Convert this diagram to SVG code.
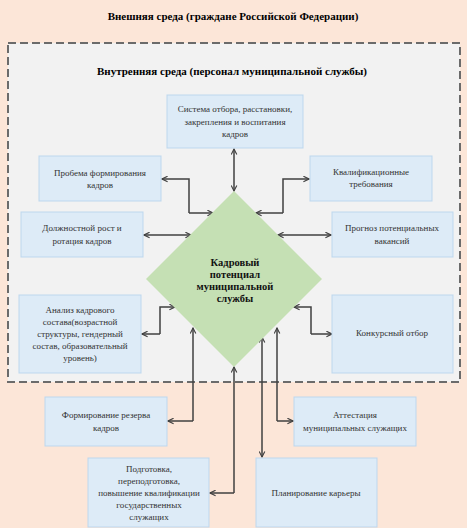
<svg xmlns="http://www.w3.org/2000/svg" width="467" height="528" viewBox="0 0 467 528">
<defs>
<style>
.t{font-family:"Liberation Serif","Times New Roman",serif;fill:#000;font-weight:bold;font-size:11px;text-anchor:middle;dominant-baseline:central}
.b{fill:#DDEBF7;stroke:#BDD7EE;stroke-width:1}
.bt{font-family:"Liberation Serif","Times New Roman",serif;fill:#333;font-size:9px;text-anchor:middle;dominant-baseline:central}
.dt{font-family:"Liberation Serif","Times New Roman",serif;fill:#111;font-size:10.5px;font-weight:bold;text-anchor:middle;dominant-baseline:central}
.c{fill:none;stroke:#404040;stroke-width:1.5;marker-end:url(#a)}
.d{marker-start:url(#s)}
</style>
<marker id="a" viewBox="0 0 10 10" refX="9" refY="5" markerWidth="7" markerHeight="7" markerUnits="userSpaceOnUse" orient="auto">
<path d="M1,1 L9,5 L1,9" fill="none" stroke="#404040" stroke-width="1.6"/>
</marker>
<marker id="s" viewBox="0 0 10 10" refX="1" refY="5" markerWidth="7" markerHeight="7" markerUnits="userSpaceOnUse" orient="auto">
<path d="M9,1 L1,5 L9,9" fill="none" stroke="#404040" stroke-width="1.6"/>
</marker>
</defs>
<rect x="0" y="0" width="467" height="528" fill="#FCE6D8"/>
<text class="t" x="233" y="16">Внешняя среда (граждане Российской Федерации)</text>
<rect x="8" y="43" width="452" height="339" fill="#F2F2F2" stroke="#6B6B6B" stroke-width="2" stroke-dasharray="8,4"/>
<text class="t" x="232" y="71">Внутренняя среда (персонал муниципальной службы)</text>

<g id="connectors">
<path class="c d" d="M234,149 V191"/>
<path class="c" d="M189,213 V179 H162"/>
<path class="c" d="M189,213 H213"/>
<path class="c d" d="M144,235 H191"/>
<path class="c" d="M283,213 V179 H309"/>
<path class="c" d="M283,213 H256"/>
<path class="c d" d="M278,235 H331"/>
<path class="c" d="M160,334 V307 H175"/>
<path class="c" d="M160,334 H142"/>
<path class="c" d="M311,334 V307 H294"/>
<path class="c" d="M311,334 H332"/>
<path class="c" d="M193,421 V328"/>
<path class="c" d="M193,421 H168"/>
<path class="c" d="M234,493 V367"/>
<path class="c" d="M234,493 H210"/>
<path class="c" d="M262,380 V337"/>
<path class="c" d="M262,380 V457"/>
<path class="c" d="M277,421 V328"/>
<path class="c" d="M277,421 H293"/>
</g>

<g id="center">
<polygon points="234,191 322,279 234,367 146,279" fill="#C5E0B4"/>
<text class="dt" x="235" y="262">Кадровый</text>
<text class="dt" x="235" y="274">потенциал</text>
<text class="dt" x="235" y="286">муниципальной</text>
<text class="dt" x="235" y="298">службы</text>
</g>

<g id="n1">
<rect class="b" x="167" y="95" width="136" height="53"/>
<text class="bt" x="235" y="109">Система отбора, расстановки,</text>
<text class="bt" x="235" y="122">закрепления и воспитания</text>
<text class="bt" x="235" y="134">кадров</text>
</g>
<g id="n2">
<rect class="b" x="39" y="156" width="122" height="45"/>
<text class="bt" x="100" y="173">Пробема формирования</text>
<text class="bt" x="100" y="185">кадров</text>
</g>
<g id="n3">
<rect class="b" x="21" y="212" width="122" height="45"/>
<text class="bt" x="82" y="228">Должностной рост и</text>
<text class="bt" x="82" y="241">ротация кадров</text>
</g>
<g id="n4">
<rect class="b" x="310" y="156" width="122" height="45"/>
<text class="bt" x="371" y="172">Квалификационные</text>
<text class="bt" x="371" y="184">требования</text>
</g>
<g id="n5">
<rect class="b" x="332" y="212" width="121" height="45"/>
<text class="bt" x="392" y="228">Прогноз потенциальных</text>
<text class="bt" x="392" y="241">вакансий</text>
</g>
<g id="n6">
<rect class="b" x="19" y="295" width="122" height="78"/>
<text class="bt" x="80" y="310">Анализ кадрового</text>
<text class="bt" x="80" y="322">состава(возрастной</text>
<text class="bt" x="80" y="334">структуры, гендерный</text>
<text class="bt" x="80" y="346">состав, образовательный</text>
<text class="bt" x="80" y="358">уровень)</text>
</g>
<g id="n7">
<rect class="b" x="332" y="295" width="121" height="78"/>
<text class="bt" x="392" y="333">Конкурсный отбор</text>
</g>
<g id="n8">
<rect class="b" x="45" y="397" width="122" height="49"/>
<text class="bt" x="106" y="415">Формирование резерва</text>
<text class="bt" x="106" y="428">кадров</text>
</g>
<g id="n9">
<rect class="b" x="88" y="458" width="121" height="69"/>
<text class="bt" x="149" y="469">Подготовка,</text>
<text class="bt" x="149" y="481">переподготовка,</text>
<text class="bt" x="149" y="493">повышение квалификации</text>
<text class="bt" x="149" y="505">государственных</text>
<text class="bt" x="149" y="517">служащих</text>
</g>
<g id="n10">
<rect class="b" x="294" y="397" width="122" height="49"/>
<text class="bt" x="355" y="415">Аттестация</text>
<text class="bt" x="355" y="428">муниципальных служащих</text>
</g>
<g id="n11">
<rect class="b" x="256" y="458" width="121" height="69"/>
<text class="bt" x="316" y="493">Планирование карьеры</text>
</g>
</svg>
